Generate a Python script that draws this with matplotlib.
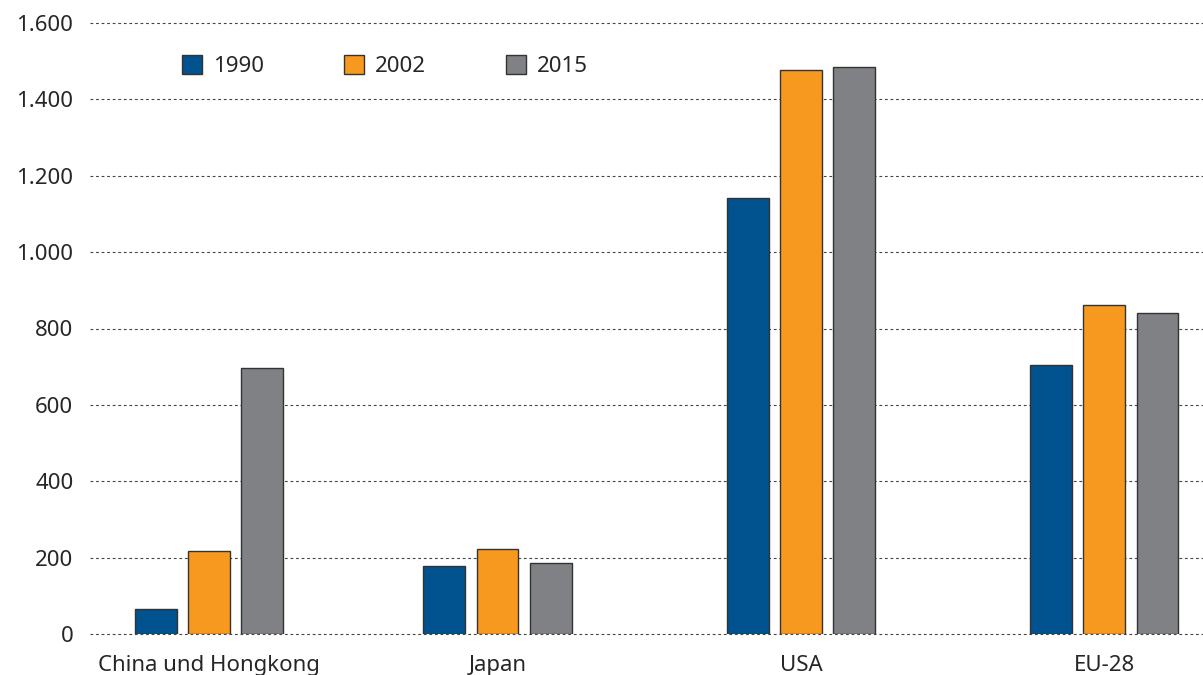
"""Bar chart: three years per region, German number format."""

import matplotlib.pyplot as plt
from matplotlib.patches import Patch
from matplotlib.ticker import FuncFormatter, MultipleLocator
import numpy as np

plt.rcParams["font.family"] = ["Noto Sans", "DejaVu Sans"]

regions = ["China und Hongkong", "Japan", "USA", "EU-28"]
years = ["1990", "2002", "2015"]
values_1990 = [65, 178, 1142, 704]
values_2002 = [217, 223, 1477, 861]
values_2015 = [697, 186, 1485, 840]

COLORS = ["#00538f", "#f7991f", "#808184"]
TEXT = "#262626"

# group centres (first gap is a bit narrower in the original)
group_x = np.array([0.0, 0.95, 1.95, 2.95])
bar_w = 0.138
step = 0.175

fig = plt.figure(figsize=(12.03, 6.75), dpi=100)
ax = fig.add_axes([90 / 1203, 1 - 634 / 675, 1 - 90 / 1203, (634 - 23) / 675])

for i, vals in enumerate([values_1990, values_2002, values_2015]):
    ax.bar(group_x + (i - 1) * step, vals, width=bar_w,
           color=COLORS[i], edgecolor="#333333", linewidth=1.0, zorder=3)

ax.set_ylim(0, 1600)
ax.set_xlim(-0.393, 3.275)
ax.yaxis.set_major_locator(MultipleLocator(200))
ax.yaxis.set_major_formatter(
    FuncFormatter(lambda v, _: f"{int(v):,}".replace(",", ".")))
ax.set_xticks(group_x)
ax.set_xticklabels(regions)

ax.grid(axis="y", color="#444444", linewidth=0.8, linestyle=(0, (2.5, 2.5)))
ax.set_axisbelow(True)
# keep the zero and top gridlines fully visible at the axes edges
for gl in ax.get_ygridlines():
    gl.set_clip_on(False)
for s in ax.spines.values():
    s.set_visible(False)
ax.tick_params(axis="both", length=0, labelsize=16, colors=TEXT)
ax.tick_params(axis="y", pad=12)
ax.tick_params(axis="x", pad=15)

handles = [Patch(facecolor=c, edgecolor="#333333", linewidth=1.0) for c in COLORS]
fig.legend(handles, years, loc="center left",
           bbox_to_anchor=(182 / 1203, 1 - 66 / 675), ncol=3, frameon=False,
           fontsize=16, handlelength=0.9, handleheight=0.9, handletextpad=0.5,
           columnspacing=3.6, borderpad=0, borderaxespad=0, labelcolor=TEXT)

fig.savefig("out.png", dpi=100)
